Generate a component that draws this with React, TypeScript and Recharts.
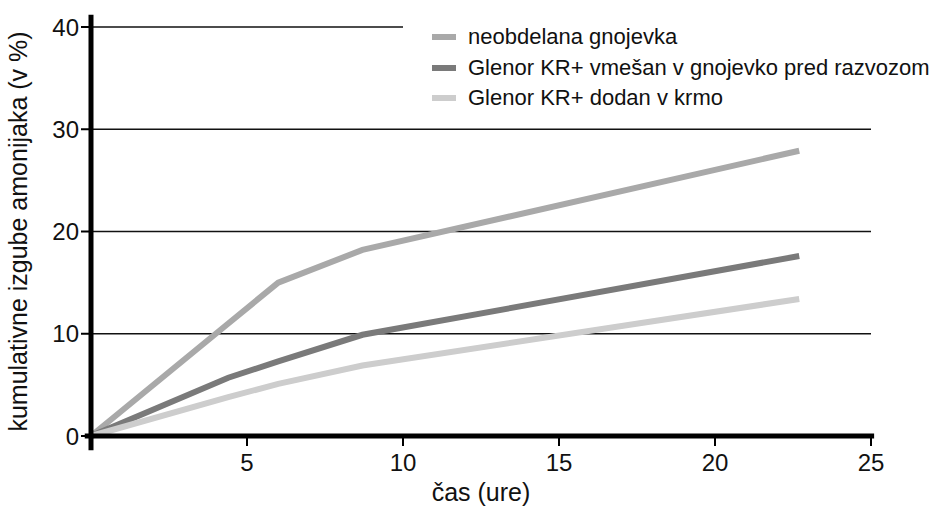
import React from "react";
import { LineChart, Line, XAxis, YAxis, ReferenceLine } from "recharts";

// ure (hours) at which values were read
const hours = [0, 4.4, 6, 8.7, 22.7];
// kumulativne izgube amonijaka (v %)
const neobdelana = [0, 11, 15, 18.2, 27.9];
const vmesan = [0, 5.7, 7.3, 9.9, 17.6];
const krmo = [0, 3.8, 5.1, 6.9, 13.4];

const xTicks = [5, 10, 15, 20, 25];
const yTicks = [0, 10, 20, 30, 40];

const seriesNames = [
  "neobdelana gnojevka",
  "Glenor KR+ vmešan v gnojevko pred razvozom",
  "Glenor KR+ dodan v krmo",
];
const seriesColors = ["#a9a9a9", "#7a7a7a", "#cdcdcd"];

const data = hours.map((h, i) => ({
  h,
  a: neobdelana[i],
  b: vmesan[i],
  c: krmo[i],
}));

const FONT = '"Liberation Sans", Arial, sans-serif';

function LegendBox() {
  return (
    <div
      style={{
        position: "absolute",
        left: 432,
        top: 22,
        fontFamily: FONT,
        fontSize: 22,
        color: "#111",
        whiteSpace: "nowrap",
      }}
    >
      {seriesNames.map((n, i) => (
        <div key={n} style={{ display: "flex", alignItems: "center", height: 30.5 }}>
          <span
            style={{
              display: "inline-block",
              width: 24,
              height: 6,
              background: seriesColors[i],
              marginRight: 12,
            }}
          />
          <span>{n}</span>
        </div>
      ))}
    </div>
  );
}

export default function App() {
  return (
    <div
      style={{
        position: "absolute",
        left: 0,
        top: 0,
        width: 929,
        height: 511,
        background: "#fff",
      }}
    >
      <LineChart
        width={929}
        height={511}
        data={data}
        margin={{ top: 27, right: 58, bottom: 0, left: 0 }}
        style={{ fontFamily: FONT }}
      >
        <XAxis
          dataKey="h"
          type="number"
          domain={[0, 25]}
          ticks={xTicks}
          height={75}
          axisLine={false}
          tickLine={{ stroke: "#000", strokeWidth: 2 }}
          tickSize={10}
          tickMargin={8}
          tick={{ fontSize: 24, fill: "#111" }}
          label={{
            value: "čas (ure)",
            position: "insideBottom",
            offset: 10,
            fontSize: 25,
            fill: "#111",
          }}
        />
        <YAxis
          type="number"
          domain={[0, 40]}
          ticks={yTicks}
          axisLine={false}
          tickLine={{ stroke: "#000", strokeWidth: 2 }}
          tickSize={10}
          tick={{ fontSize: 24, fill: "#111" }}
          width={91}
          label={{
            value: "kumulativne izgube amonijaka (v %)",
            angle: -90,
            position: "insideLeft",
            offset: 18,
            fontSize: 25,
            fill: "#111",
            style: { textAnchor: "middle" },
          }}
        />
        <ReferenceLine stroke="#111" strokeWidth={1.5} segment={[{ x: 0, y: 10 }, { x: 25, y: 10 }]} />
        <ReferenceLine stroke="#111" strokeWidth={1.5} segment={[{ x: 0, y: 20 }, { x: 25, y: 20 }]} />
        <ReferenceLine stroke="#111" strokeWidth={1.5} segment={[{ x: 0, y: 30 }, { x: 25, y: 30 }]} />
        <ReferenceLine stroke="#111" strokeWidth={1.5} segment={[{ x: 0, y: 40 }, { x: 10, y: 40 }]} />
        <Line
          dataKey="a"
          name={seriesNames[0]}
          stroke={seriesColors[0]}
          strokeWidth={6}
          dot={false}
          isAnimationActive={false}
        />
        <Line
          dataKey="b"
          name={seriesNames[1]}
          stroke={seriesColors[1]}
          strokeWidth={6}
          dot={false}
          isAnimationActive={false}
        />
        <Line
          dataKey="c"
          name={seriesNames[2]}
          stroke={seriesColors[2]}
          strokeWidth={6}
          dot={false}
          isAnimationActive={false}
        />
        <ReferenceLine
          stroke="#000"
          strokeWidth={5}
          ifOverflow="visible"
          segment={[{ x: 0, y: -1.4 }, { x: 0, y: 41.2 }]}
        />
        <ReferenceLine
          stroke="#000"
          strokeWidth={5}
          ifOverflow="visible"
          segment={[{ x: -0.2, y: 0 }, { x: 25.1, y: 0 }]}
        />
      </LineChart>
      <LegendBox />
    </div>
  );
}
